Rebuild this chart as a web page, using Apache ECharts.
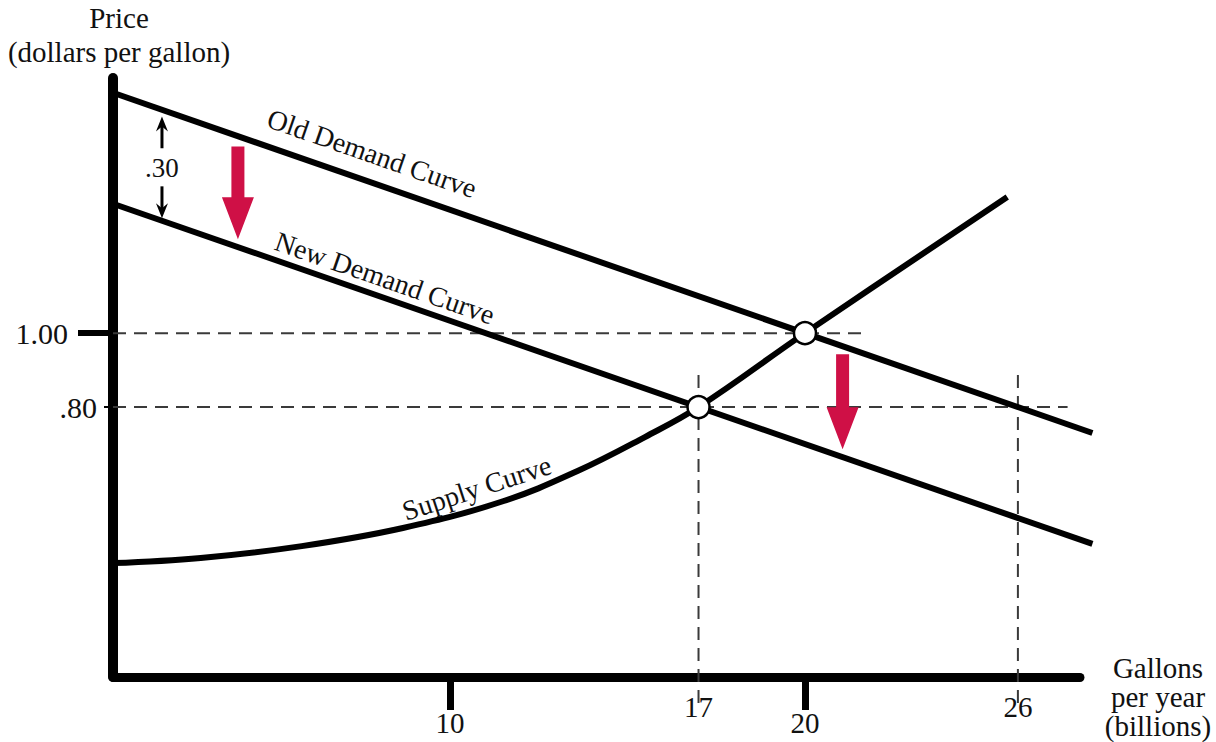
<!DOCTYPE html>
<html>
<head>
<meta charset="utf-8">
<title>Gasoline tax shifts demand</title>
<script src="https://cdn.jsdelivr.net/npm/echarts@6/dist/echarts.min.js"></script>
<style>
  html, body { margin: 0; padding: 0; background: #fff; }
  #chart { width: 1216px; height: 742px; }
</style>
</head>
<body>
<div id="chart"></div>
<script>
// quantity: billions of gallons per year, price: dollars per gallon
const oldDemand = [[0.5, 1.65], [28.1, 0.73]]
const newDemand = [[0.5, 1.35], [28.1, 0.43]]
const supply = [
  [0.5, 0.378], [2.97, 0.392], [5.82, 0.424], [8.67, 0.473], [11.51, 0.546],
  [13.59, 0.627], [15.49, 0.719], [17, 0.80], [20, 1.00], [25.7, 1.368]
]
const equilibria = [[17, 0.80], [20, 1.00]]

const xTickValues = [10, 20]
const xMarkValues = [17, 26]
const yTickValues = [1.00]
const yMarkValues = [0.80]

// dashed reference lines
const guides = [
  [[0.5, 1.00], [21.6, 1.00]],
  [[0.5, 0.80], [27.4, 0.80]],
  [[17, 0.0], [17, 0.897]],
  [[26, 0.0], [26, 0.903]]
]

// annotations (data coordinates)
const curveLabels = [
  { text: 'Old Demand Curve', at: [7.8, 1.486], along: oldDemand },
  { text: 'New Demand Curve', at: [8.16, 1.149], along: newDemand },
  { text: 'Supply Curve', at: [10.75, 0.581], along: [[8.67, 0.473], [13.59, 0.627]] }
]
const shiftArrows = [
  { x: 4.02, from: 1.505, to: 1.254 },
  { x: 21.06, from: 0.943, to: 0.686 }
]
const taxGap = { label: '.30', x: 1.88, up: [1.50, 1.586], down: [1.397, 1.311], at: 1.446 }

const FONT = '"Liberation Serif", "DejaVu Serif", serif'
const INK = '#111'
const RED = '#cf1046'
const X_MIN = 0.5, X_MAX = 27.75
const Y_MIN = 0.07, Y_MAX = 1.69

const chart = echarts.init(document.getElementById('chart'), null, { renderer: 'svg' })

const priceFmt = v => v >= 1 ? v.toFixed(2) : v.toFixed(2).replace(/^0/, '')

const labelStyle = { color: INK, fontFamily: FONT, fontSize: 29 }

function guideSeries(pts) {
  return {
    type: 'line',
    data: pts,
    showSymbol: false,
    silent: true,
    clip: false,
    z: 1,
    lineStyle: { color: '#3a3a3a', width: 2, type: [13, 8] }
  }
}

// straight demand lines run a little past the end of the x axis
function demandSeries(name, pts) {
  return {
    name,
    type: 'lines',
    coordinateSystem: 'cartesian2d',
    clip: false,
    silent: true,
    z: 3,
    data: [{ coords: pts }],
    lineStyle: { color: '#000', width: 6, opacity: 1, curveness: 0 }
  }
}

chart.setOption({
  animation: false,
  backgroundColor: '#fff',
  grid: { left: 113, right: 136, top: 78, bottom: 65, containLabel: false, outerBoundsMode: 'none' },
  xAxis: [
    {
      type: 'value',
      position: 'bottom',
      min: X_MIN,
      max: X_MAX,
      axisLine: { show: true, lineStyle: { color: '#000', width: 9 } },
      axisTick: { show: true, customValues: xTickValues, length: 33, lineStyle: { color: '#000', width: 7 } },
      axisLabel: { customValues: xTickValues, margin: 31, ...labelStyle },
      splitLine: { show: false }
    },
    {
      type: 'value',
      position: 'bottom',
      min: X_MIN,
      max: X_MAX,
      axisLine: { show: false },
      axisTick: { show: false },
      axisLabel: { customValues: xMarkValues, margin: 15, ...labelStyle },
      splitLine: { show: false }
    }
  ],
  yAxis: [
    {
      type: 'value',
      position: 'left',
      min: Y_MIN,
      max: Y_MAX,
      name: 'Price\n(dollars per gallon)',
      nameLocation: 'end',
      nameGap: 9,
      nameTextStyle: {
        color: INK, fontFamily: FONT, fontSize: 29, lineHeight: 34,
        align: 'center', verticalAlign: 'bottom', padding: [0, 0, 0, 12]
      },
      axisLine: { show: true, lineStyle: { color: '#000', width: 10 } },
      axisTick: { show: true, customValues: yTickValues, length: 35, lineStyle: { color: '#000', width: 6 } },
      axisLabel: { customValues: yTickValues, margin: 45, formatter: priceFmt, ...labelStyle, fontSize: 30 },
      splitLine: { show: false }
    },
    {
      type: 'value',
      position: 'left',
      min: Y_MIN,
      max: Y_MAX,
      axisLine: { show: false },
      axisTick: { show: true, customValues: yMarkValues, length: 9, lineStyle: { color: '#000', width: 2 } },
      axisLabel: { customValues: yMarkValues, margin: 16, formatter: priceFmt, ...labelStyle, fontSize: 30 },
      splitLine: { show: false }
    }
  ],
  series: [
    ...guides.map(guideSeries),
    demandSeries('Old Demand Curve', oldDemand),
    demandSeries('New Demand Curve', newDemand),
    {
      name: 'Supply Curve',
      type: 'line',
      data: supply,
      smooth: 0.4,
      showSymbol: false,
      silent: true,
      clip: false,
      z: 3,
      lineStyle: { color: '#000', width: 6 }
    },
    {
      type: 'scatter',
      data: equilibria,
      symbol: 'circle',
      symbolSize: 22,
      silent: true,
      z: 5,
      itemStyle: { color: '#fff', borderColor: '#000', borderWidth: 2.5, opacity: 1 }
    }
  ]
})

// annotations are placed through the chart's own coordinate system
const toPx = p => chart.convertToPixel({ xAxisIndex: 0, yAxisIndex: 0 }, p)

function slopeAngle(line) {
  const a = toPx(line[0])
  const b = toPx(line[line.length - 1])
  return Math.atan2(-(b[1] - a[1]), b[0] - a[0])
}

function downArrow(a) {
  const top = toPx([a.x, a.from])
  const tip = toPx([a.x, a.to])
  const cx = top[0]
  const sw = 6.5, hw = 16, hl = 42
  return {
    type: 'polygon',
    shape: {
      points: [
        [cx - sw, top[1]], [cx + sw, top[1]], [cx + sw, tip[1] - hl], [cx + hw, tip[1] - hl],
        [cx, tip[1]], [cx - hw, tip[1] - hl], [cx - sw, tip[1] - hl]
      ]
    },
    style: { fill: RED },
    z: 10
  }
}

function thinArrow(x, fromY, toY) {
  const a = toPx([x, fromY])
  const b = toPx([x, toY])
  const dir = b[1] < a[1] ? -1 : 1
  const hl = 15, hw = 6
  return [
    {
      type: 'line',
      shape: { x1: a[0], y1: a[1], x2: b[0], y2: b[1] - dir * 8 },
      style: { stroke: '#000', lineWidth: 3 },
      z: 10
    },
    {
      type: 'polygon',
      shape: {
        points: [
          [b[0], b[1]], [b[0] + hw, b[1] - dir * hl], [b[0], b[1] - dir * (hl - 5)], [b[0] - hw, b[1] - dir * hl]
        ]
      },
      style: { fill: '#000' },
      z: 10
    }
  ]
}

const graphics = []

curveLabels.forEach(l => {
  const p = toPx(l.at)
  graphics.push({
    type: 'text',
    x: p[0],
    y: p[1],
    rotation: slopeAngle(l.along),
    style: {
      text: l.text, x: 0, y: 0, align: 'center', verticalAlign: 'middle',
      fill: INK, font: '28px ' + FONT
    },
    z: 10
  })
})

shiftArrows.forEach(a => graphics.push(downArrow(a)))

graphics.push(...thinArrow(taxGap.x, taxGap.up[0], taxGap.up[1]))
graphics.push(...thinArrow(taxGap.x, taxGap.down[0], taxGap.down[1]))
const gapPos = toPx([taxGap.x, taxGap.at])
graphics.push({
  type: 'text',
  x: gapPos[0],
  y: gapPos[1],
  style: {
    text: taxGap.label, x: 0, y: 0, align: 'center', verticalAlign: 'middle',
    fill: INK, font: '27px ' + FONT
  },
  z: 10
})

// x-axis title sits to the right of the axis end, below its line
const xEnd = toPx([X_MAX, Y_MIN])
graphics.push({
  type: 'text',
  x: xEnd[0] + 78,
  y: xEnd[1] + 20,
  style: {
    text: 'Gallons\nper year\n(billions)', x: 0, y: 0, align: 'center', verticalAlign: 'middle',
    fill: INK, font: '29px ' + FONT, lineHeight: 29
  },
  z: 10
})

chart.setOption({ graphic: graphics })

window.addEventListener('resize', () => chart.resize())
</script>
</body>
</html>
